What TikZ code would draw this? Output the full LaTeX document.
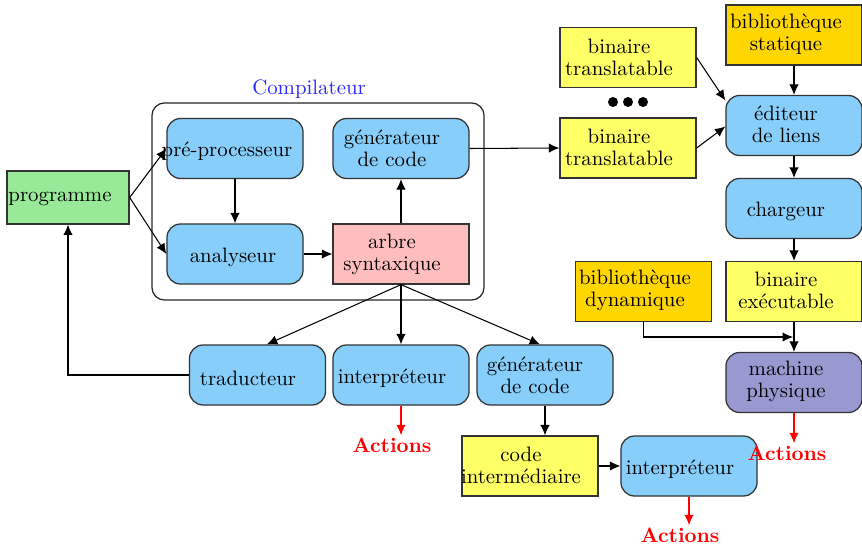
\documentclass[tikz,border=0pt]{standalone}
\usetikzlibrary{arrows.meta,calc}
\definecolor{progGreen}{RGB}{152,234,152}
\definecolor{skyBlue}{RGB}{135,206,250}
\definecolor{treePink}{RGB}{255,190,190}
\definecolor{binYellow}{RGB}{255,255,102}
\definecolor{libGold}{RGB}{255,214,0}
\definecolor{machPurple}{RGB}{153,153,210}
\definecolor{titleBlue}{RGB}{40,40,255}
\begin{document}
\begin{tikzpicture}[x=0.48pt,y=-0.48pt,
  box/.style={draw=black!80, line width=0.6pt, minimum width=65.3pt, minimum height=28.8pt, inner sep=0pt},
  rbox/.style={box, rounded corners=6.5pt, fill=skyBlue},
  txt/.style={align=center, font=\fontsize{10pt}{10.5pt}\selectfont, inner sep=0pt},
  act/.style={text=red, font=\bfseries, inner sep=1pt},
  link/.style={-{Latex[length=5pt,width=4.5pt]}, line width=0.5pt},
  actlink/.style={link, draw=red}
]
\useasboundingbox (0,0) rectangle (862,544);

% compiler frame
\node[draw=black!85, line width=0.6pt, rounded corners=6pt, minimum width=159.4pt, minimum height=94.6pt, inner sep=0pt] (comp) at (318,201.5) {};
\node[txt, text=titleBlue] (compT) at (309,89) {Compilateur};

% boxes
\node[box, fill=progGreen, minimum width=58.6pt, minimum height=25.4pt] (prog) at (68,197.5) {};
\node[rbox] (pre) at (235,148.5) {};
\node[rbox] (gen1) at (401,148.5) {};
\node[rbox] (ana) at (235,254) {};
\node[box, fill=treePink] (arbre) at (401,254) {};
\node[rbox] (trad) at (257.5,375) {};
\node[rbox] (interp) at (401,375) {};
\node[rbox] (gen2) at (545,375) {};
\node[box, fill=binYellow] (ci) at (530,466) {};
\node[rbox] (interp2) at (689,466) {};
\node[box, fill=binYellow] (bin1) at (628,57.5) {};
\node[box, fill=binYellow] (bin2) at (628,148) {};
\node[box, fill=libGold] (bstat) at (794,35) {};
\node[rbox] (edit) at (794,125.5) {};
\node[rbox] (charg) at (794,208.5) {};
\node[box, fill=libGold] (bdyn) at (643.5,291.5) {};
\node[box, fill=binYellow] (bexe) at (794,291.5) {};
\node[rbox, fill=machPurple] (mach) at (794,382.5) {};

% texts
\node[txt] (progT) at (60,199) {programme};
\node[txt] (preT) at (227,151) {pré-processeur};
\node[txt] (gen1T) at (392,148) {générateur\\de code};
\node[txt] (anaT) at (233,257) {analyseur};
\node[txt] (arbreT) at (392,254) {arbre\\syntaxique};
\node[txt] (tradT) at (248,378) {traducteur};
\node[txt] (interpT) at (392,378) {interpréteur};
\node[txt] (gen2T) at (535,375) {générateur\\de code};
\node[txt] (ciT) at (521,465) {code\\intermédiaire};
\node[txt] (interp2T) at (680,469) {interpréteur};
\node[txt] (bin1T) at (619,57) {binaire\\translatable};
\node[txt] (bin2T) at (619,147) {binaire\\translatable};
\node[txt] (bstatT) at (786,34) {bibliothèque\\statique};
\node[txt] (editT) at (786,124) {éditeur\\de liens};
\node[txt] (chargT) at (786,211) {chargeur};
\node[txt] (bdynT) at (635,290) {bibliothèque\\dynamique};
\node[txt] (bexeT) at (786,290) {binaire\\exécutable};
\node[txt] (machT) at (786,381) {machine\\physique};

\node[act] (act1) at (392,445) {Actions};
\node[act] (act2) at (680,535) {Actions};
\node[act] (act3) at (787,453) {Actions};

% ellipsis between the relocatable binaries
\foreach \dx in {613,628,643} \fill (\dx,102) circle[radius=2.4pt];

% connectors
\draw[link] (prog.east) -- (pre.west);
\draw[link] (prog.east) -- (ana.west);
\draw[link] (pre.south) -- (ana.north);
\draw[link] (ana.east) -- (arbre.west);
\draw[link] (arbre.north) -- (gen1.south);
\draw[link] (gen1.east) -- (bin2.west);
\draw[link] (arbre.south) -- ([xshift=4.5pt]trad.north);
\draw[link] (arbre.south) -- (interp.north);
\draw[link] (arbre.south) -- ([xshift=-2.4pt]gen2.north);
\draw[link] (trad.west) -| (prog.south);
\draw[link] (gen2.south) -- (gen2.south |- ci.north);
\draw[link] (ci.east) -- (interp2.west);
\draw[link] (bin1.east) -- ([yshift=12pt]edit.west);
\draw[link] (bin2.east) -- ([yshift=-0.5pt]edit.west);
\draw[link] (bstat.south) -- (edit.north);
\draw[link] (edit.south) -- (charg.north);
\draw[link] (charg.south) -- (bexe.north);
\draw[link] (bexe.south) -- (mach.north);
\coordinate (join) at (793,337);
\draw[link] (bdyn.south) |- (join);

\draw[actlink] (interp.south) -- (interp.south |- act1.north);
\draw[actlink] (interp2.south) -- (interp2.south |- act2.north);
\draw[actlink] (mach.south) -- (mach.south |- act3.north);
\end{tikzpicture}
\end{document}
